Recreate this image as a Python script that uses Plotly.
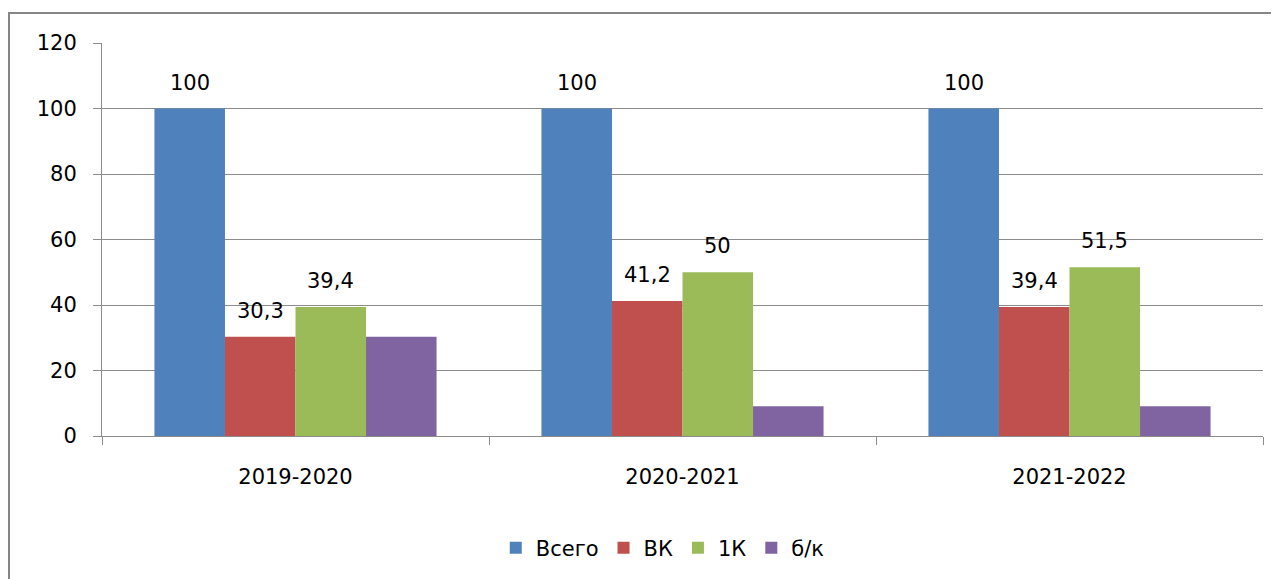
import plotly.graph_objects as go

categories = ["2019-2020", "2020-2021", "2021-2022"]
series_names = ["Всего", "ВК", "1К", "б/к"]
vsego = [100, 100, 100]
vk = [30.3, 41.2, 39.4]
k1 = [39.4, 50, 51.5]
bk = [30.3, 9.1, 9.1]
show_labels = [True, True, True, False]
colors = ["#4F81BD", "#C0504D", "#9BBB59", "#8064A2"]

all_series = [vsego, vk, k1, bk]
FONT = "DejaVu Sans"
FS = 21
bargap = 0.271

fig = go.Figure()
for name, vals, col in zip(series_names, all_series, colors):
    fig.add_trace(go.Bar(name=name, x=categories, y=vals, marker=dict(color=col, line=dict(width=0))))

# data labels above bars (positions derived from the bar group layout)
n = len(all_series)
bw = (1 - bargap) / n
for si, (vals, show) in enumerate(zip(all_series, show_labels)):
    if not show:
        continue
    off = -(1 - bargap) / 2 + bw * (si + 0.5)
    for ci, v in enumerate(vals):
        txt = (f"{v:g}").replace(".", ",")
        fig.add_annotation(x=ci + off, y=v, xref="x", yref="y", text=txt,
                           showarrow=False, yshift=26, yanchor="middle",
                           font=dict(family=FONT, size=FS, color="#000"))

fig.update_layout(
    width=1271, height=571,
    margin=dict(l=94, r=16, t=35, b=142),
    paper_bgcolor="white", plot_bgcolor="white",
    barmode="group", bargap=bargap, bargroupgap=0,
    font=dict(family=FONT, size=FS, color="#000"),
    showlegend=True,
    legend=dict(orientation="h", x=0.483, xanchor="center", y=-0.282, yanchor="middle",
                font=dict(family=FONT, size=FS, color="#000"),
                traceorder="normal"),
    shapes=[dict(type="rect", xref="paper", yref="paper",
                 x0=-93/1161, x1=1.2, y0=-0.6, y1=1 + 30/394,
                 line=dict(color="#868686", width=2), fillcolor="rgba(0,0,0,0)", layer="below")],
)
fig.update_yaxes(range=[0, 120], dtick=20, showgrid=True, gridcolor="#8c8c8c", gridwidth=1,
                 showline=True, linecolor="#8c8c8c", linewidth=1,
                 ticks="outside", ticklen=8, tickcolor="#8c8c8c",
                 tickfont=dict(family=FONT, size=FS, color="#000"), zeroline=False,
                 ticklabelstandoff=12)
fig.update_xaxes(showline=True, linecolor="#8c8c8c", linewidth=1,
                 ticks="outside", ticklen=8, tickcolor="#8c8c8c", tickson="boundaries",
                 tickfont=dict(family=FONT, size=FS, color="#000"), ticklabelstandoff=22)

fig.write_html("out.html")
